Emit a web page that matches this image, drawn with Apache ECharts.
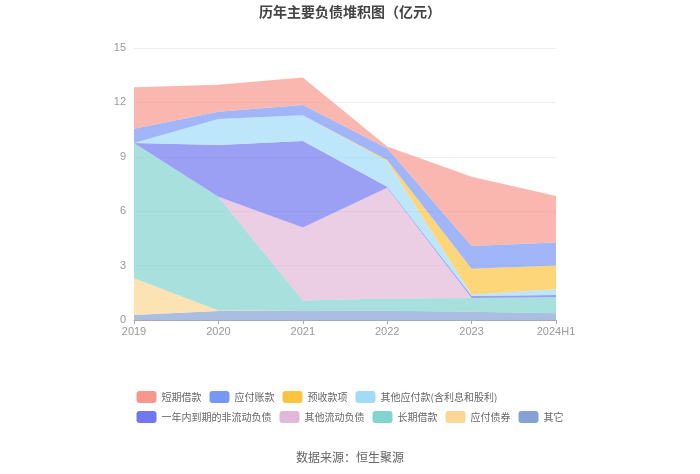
<!DOCTYPE html>
<html>
<head>
<meta charset="utf-8">
<script src="https://cdn.jsdelivr.net/npm/echarts@6/dist/echarts.min.js"></script>
<style>html,body{margin:0;padding:0;background:#fff;}#c{width:700px;height:474px;}</style>
</head>
<body>
<div id="c"></div>
<script>
const categories = ['2019','2020','2021','2022','2023','2024H1'];
const legendOrder = ['短期借款','应付账款','预收款项','其他应付款(含利息和股利)','一年内到期的非流动负债','其他流动负债','长期借款','应付债券','其它'];
// stacked bottom -> top
const qita       = [0.28, 0.50, 0.52, 0.51, 0.46, 0.37];
const yingfuZhai = [2.02, 0.02, 0.00, 0.00, 0.00, 0.00];
const changqi    = [7.46, 6.28, 0.55, 0.68, 0.76, 0.88];
const qitaLiudong= [0.00, 0.00, 4.03, 6.11, 0.00, 0.00];
const yinian     = [0.00, 2.85, 4.77, 0.05, 0.10, 0.13];
const qitaYingfu = [0.00, 1.43, 1.42, 1.40, 0.08, 0.31];
const yushou     = [0.00, 0.00, 0.00, 0.07, 1.42, 1.31];
const yingfuZhang= [0.79, 0.41, 0.57, 0.65, 1.26, 1.28];
const duanqi     = [2.28, 1.49, 1.52, 0.10, 3.82, 2.56];
const yTicks = [0, 3, 6, 9, 12, 15];

const seriesDefs = [
  ['其它', qita, '#86A2D4'],
  ['应付债券', yingfuZhai, '#FCD794'],
  ['长期借款', changqi, '#83D3D0'],
  ['其他流动负债', qitaLiudong, '#E2B8D8'],
  ['一年内到期的非流动负债', yinian, '#7077F1'],
  ['其他应付款(含利息和股利)', qitaYingfu, '#A2DBF8'],
  ['预收款项', yushou, '#FBC43E'],
  ['应付账款', yingfuZhang, '#7797F5'],
  ['短期借款', duanqi, '#F8988D']
];

const chart = echarts.init(document.getElementById('c'), null, {renderer: 'canvas'});
chart.setOption({
  animation: false,
  backgroundColor: '#fff',
  title: [
    {text: '历年主要负债堆积图（亿元）', left: 'center', top: 0,
     textStyle: {fontSize: 14, fontWeight: 'bold', color: '#444', fontFamily: 'Noto Sans CJK SC'}},
    {text: '数据来源：恒生聚源', left: 'center', top: 446,
     textStyle: {fontSize: 12, fontWeight: 'normal', color: '#666', fontFamily: 'Noto Sans CJK SC'}}
  ],
  grid: {left: 134, right: 144, top: 48, bottom: 154},
  legend: {
    data: legendOrder,
    left: 'center', top: 386, width: 440,
    icon: 'roundRect', itemWidth: 20, itemHeight: 12, itemGap: 8,
    textStyle: {fontSize: 10, color: '#666', fontFamily: 'Noto Sans CJK SC'}
  },
  xAxis: {
    type: 'category', data: categories, boundaryGap: false,
    axisLine: {lineStyle: {color: '#aaa'}},
    axisTick: {show: true, length: 4, lineStyle: {color: '#aaa'}},
    axisLabel: {color: '#999', fontSize: 11, margin: 6}
  },
  yAxis: {
    type: 'value', min: yTicks[0], max: yTicks[yTicks.length-1], interval: 3,
    axisLine: {show: false}, axisTick: {show: false},
    axisLabel: {color: '#999', fontSize: 11, margin: 8},
    splitLine: {lineStyle: {color: '#eee'}}
  },
  series: seriesDefs.map(([name, data, color]) => ({
    name, type: 'line', stack: 'total', data,
    symbol: 'none', showSymbol: false,
    itemStyle: {color},
    lineStyle: {width: 0, color},
    areaStyle: {color, opacity: 0.7}
  }))
});
</script>
</body>
</html>
